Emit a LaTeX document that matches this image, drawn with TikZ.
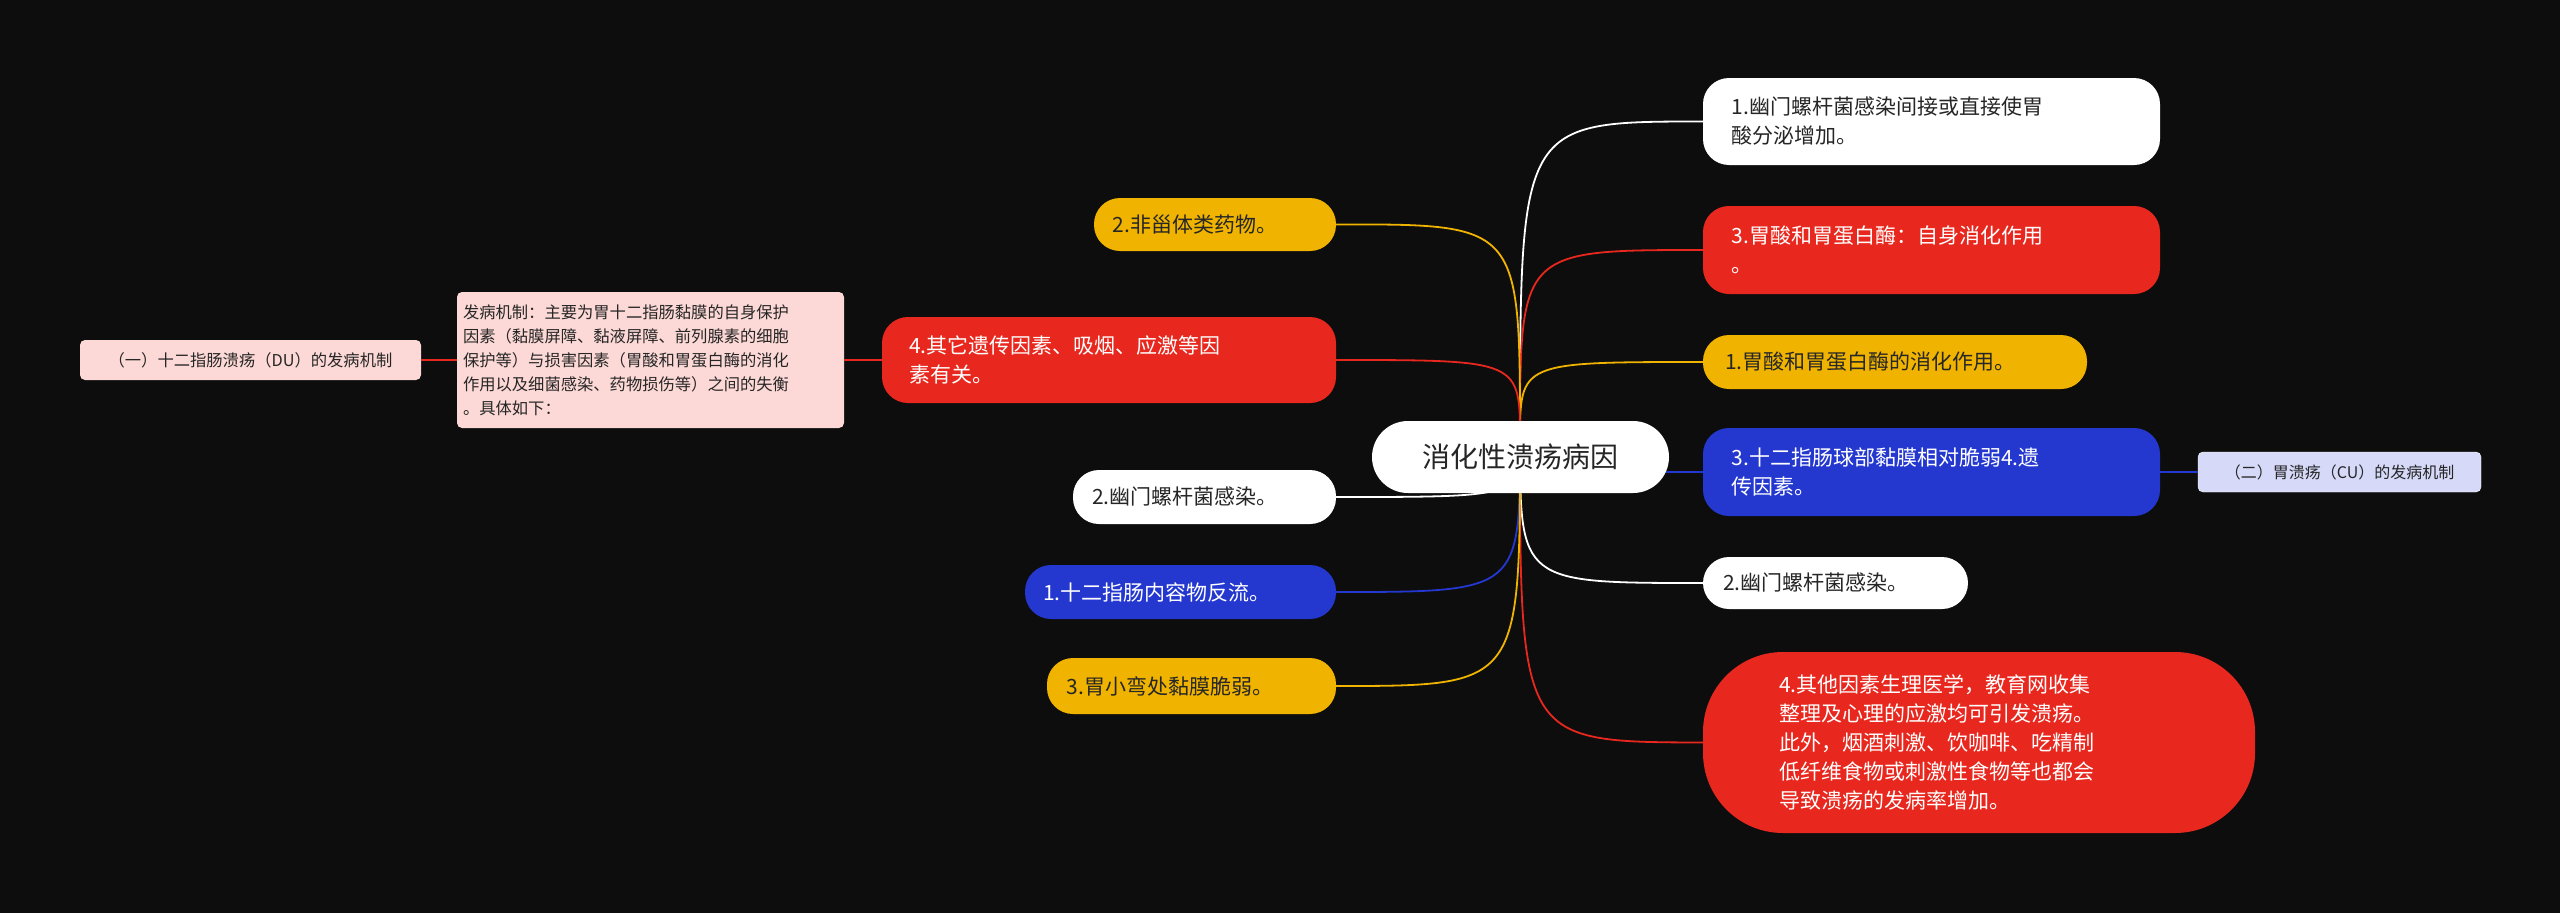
\documentclass[tikz,border=0pt]{standalone}
\usepackage{fontspec}
\setmainfont{Noto Sans CJK SC}
\begin{document}
\begin{tikzpicture}[x=1pt,y=-1pt,
  pill/.style={rounded corners=#1, inner sep=0pt, align=left, font=\fontsize{21}{29}\selectfont},
  pill/.default=26pt,
  cw/.style={fill=white, text=black!85},
  cr/.style={fill=myred, text=white},
  cy/.style={fill=myyel, text=black!85},
  cb/.style={fill=myblue, text=white},
  ed/.style={line width=1.8pt}]
\definecolor{myred}{HTML}{E8281E}
\definecolor{myyel}{HTML}{F0B400}
\definecolor{myblue}{HTML}{2438D0}
\definecolor{mypink}{HTML}{FCD9D6}
\definecolor{mylav}{HTML}{D6DAF8}
\fill[fill={rgb,255:red,13;green,13;blue,13}] (0,0) rectangle (2560,913);
\useasboundingbox (0,0) rectangle (2560,913);
\coordinate (c0) at (1520,440);
% right
\node[pill,cw,minimum width=457pt,minimum height=87pt,text width=400pt] (r1) at (1931.5,121.5) {1.幽门螺杆菌感染间接或直接使胃\\酸分泌增加。};
\node[pill,cr,minimum width=457pt,minimum height=88pt,text width=400pt] (r2) at (1931.5,250) {3.胃酸和胃蛋白酶：自身消化作用\\。};
\node[pill,cy,minimum width=384pt,minimum height=54pt,text width=340pt] (r3) at (1895,362) {1.胃酸和胃蛋白酶的消化作用。};
\node[pill,cb,minimum width=457pt,minimum height=88pt,text width=400pt] (r4) at (1931.5,472) {3.十二指肠球部黏膜相对脆弱4.遗\\传因素。};
\node[pill,cw,minimum width=265pt,minimum height=52pt,text width=225pt] (r5) at (1835.5,583) {2.幽门螺杆菌感染。};
\node[pill=80pt,cr,minimum width=552pt,minimum height=181pt,text width=400pt] (r6) at (1979,742.5) {4.其他因素生理医学，教育网收集\\整理及心理的应激均可引发溃疡。\\此外，烟酒刺激、饮咖啡、吃精制\\低纤维食物或刺激性食物等也都会\\导致溃疡的发病率增加。};
\node[rounded corners=5pt,fill=mylav,draw=white!80,inner sep=0pt,minimum width=283pt,minimum height=40pt,font=\fontsize{16}{20}\selectfont,text=black!85] (far) at (2339.5,472) {（二）胃溃疡（CU）的发病机制};
% left
\node[pill,cy,minimum width=242pt,minimum height=53pt,text width=205pt] (l1) at (1215,224.5) {2.非甾体类药物。};
\node[pill,cr,minimum width=454pt,minimum height=86pt,text width=400pt] (l2) at (1109,360) {4.其它遗传因素、吸烟、应激等因\\素有关。};
\node[pill,cw,minimum width=263pt,minimum height=54pt,text width=225pt] (l3) at (1204.5,497) {2.幽门螺杆菌感染。};
\node[pill,cb,minimum width=311pt,minimum height=54pt,text width=275pt] (l4) at (1180.5,592) {1.十二指肠内容物反流。};
\node[pill,cy,minimum width=289pt,minimum height=56pt,text width=250pt] (l5) at (1191.5,686) {3.胃小弯处黏膜脆弱。};
\node[rounded corners=5pt,fill=mypink,inner sep=0pt,minimum width=387pt,minimum height=136pt,text width=375pt,align=left,font=\fontsize{16.3}{24}\selectfont,text=black!85] (pt) at (650.5,360) {发病机制：主要为胃十二指肠黏膜的自身保护\\因素（黏膜屏障、黏液屏障、前列腺素的细胞\\保护等）与损害因素（胃酸和胃蛋白酶的消化\\作用以及细菌感染、药物损伤等）之间的失衡\\。具体如下：};
\node[rounded corners=5pt,fill=mypink,inner sep=0pt,minimum width=341pt,minimum height=40pt,font=\fontsize{16.3}{20}\selectfont,text=black!85] (pl) at (250.5,360) {（一）十二指肠溃疡（DU）的发病机制};
% edges
\begin{scope}[on background layer/.try]
\draw[ed,white] (c0) .. controls (1520,121.5) .. (r1.west);
\draw[ed,myred] (c0) .. controls (1520,250) .. (r2.west);
\draw[ed,myyel] (c0) .. controls (1520,362) .. (r3.west);
\draw[ed,myblue] (c0) .. controls (1520,472) .. (r4.west);
\draw[ed,white] (c0) .. controls (1520,583) .. (r5.west);
\draw[ed,myred] (c0) .. controls (1520,742) .. (r6.west);
\draw[ed,myyel] (c0) .. controls (1520,224) .. (l1.east);
\draw[ed,myred] (c0) .. controls (1520,360) .. (l2.east);
\draw[ed,white] (c0) .. controls (1520,497) .. (l3.east);
\draw[ed,myblue] (c0) .. controls (1520,592) .. (l4.east);
\draw[ed,myyel] (c0) .. controls (1520,686) .. (l5.east);
\end{scope}
\draw[ed,myblue] (r4.east) -- (far.west);
\draw[ed,myred] (l2.west) -- (pt.east);
\draw[ed,myred] (pt.west) -- (pl.east);
\node[pill=36pt,fill=white,text=black!85,minimum width=297pt,minimum height=72pt,align=center,font=\fontsize{28}{34}\selectfont] (c) at (1520.5,457) {消化性溃疡病因};
\end{tikzpicture}
\end{document}
